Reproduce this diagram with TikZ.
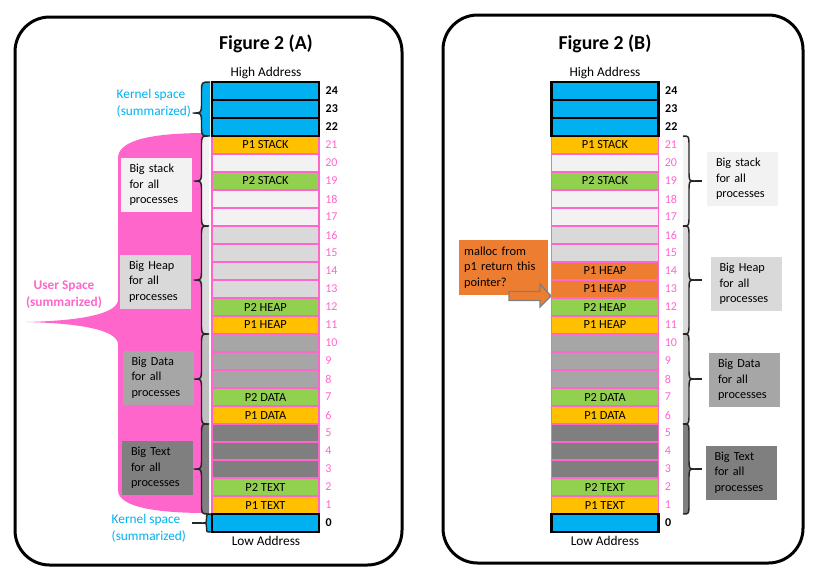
\documentclass[tikz,border=0pt]{standalone}
\usepackage{fontspec}
\setmainfont{Carlito}
\definecolor{kblue}{HTML}{00B0F0}
\definecolor{upink}{HTML}{FF66CC}
\definecolor{pyellow}{HTML}{FFC000}
\definecolor{pgreen}{HTML}{92D050}
\definecolor{porange}{HTML}{ED7D31}
\definecolor{gone}{HTML}{F2F2F2}
\definecolor{gtwo}{HTML}{D9D9D9}
\definecolor{gthree}{HTML}{A6A6A6}
\definecolor{gfour}{HTML}{7F7F7F}
\definecolor{bdata}{HTML}{BFBFBF}

% flat x, top y, bottom y, tip y, signed width, curve height
\newcommand{\bracepath}[6]{(#1,#2) .. controls ({#1-(#5)/2},#2) .. ({#1-(#5)/2},{#2+#6})
  -- ({#1-(#5)/2},{#4-#6}) .. controls ({#1-(#5)/2},#4) .. ({#1-(#5)},#4)
  .. controls ({#1-(#5)/2},#4) .. ({#1-(#5)/2},{#4+#6})
  -- ({#1-(#5)/2},{#3-#6}) .. controls ({#1-(#5)/2},#3) .. (#1,#3)}
\newcommand{\membrace}[7]{%
  \fill[#7] \bracepath{#1}{#2}{#3}{#4}{#5}{#6} -- cycle;
  \draw[braceline] \bracepath{#1}{#2}{#3}{#4}{#5}{#6};}

\tikzset{
  panel/.style={line width=2.25pt, rounded corners=26pt},
  cell/.style={draw=upink, line width=1.1pt, minimum width=80.25pt, minimum height=13.5pt,
    inner sep=0pt, font=\fontsize{9.3}{11}\selectfont},
  kcell/.style={cell, draw=black, line width=1.6pt, fill=kblue},
  num/.style={text=upink, inner sep=0pt, xshift=4pt, font=\fontsize{9}{11}\selectfont},
  knum/.style={num, text=black, font=\fontsize{9}{11}\selectfont\bfseries},
  infobox/.style={fill=#1, text width=39.75pt, inner xsep=6.75pt, minimum height=40.5pt,
    align=left, font=\fontsize{9.2}{11.6}\selectfont},
  braceline/.style={draw=black!85, line width=1.1pt, line join=round},
  ktext/.style={text=kblue, align=left, font=\fontsize{10}{12.75}\selectfont},
  title/.style={font=\fontsize{14.8}{18}\selectfont\bfseries},
  addr/.style={font=\fontsize{10}{12}\selectfont}
}

\begin{document}
\begin{tikzpicture}[x=0.75pt,y=-0.75pt]
  \useasboundingbox (0,0) rectangle (825,583);
  \begin{scope}
    \draw[panel] (15,17) rectangle (402,565);
    \fill[upink] (207,133) .. controls (160,133) and (118,138) .. (118,158) -- (118,300)
      .. controls (117,316) and (70,321) .. (26,322) .. controls (70,323) and (117,328) .. (118,344)
      -- (118,490) .. controls (118,508) and (160,513) .. (207,513) -- cycle;

    \membrace{210}{82}{136}{113}{17}{10}{kblue}
    \membrace{209}{136}{226}{181}{15}{10}{gone}
    \membrace{209}{226}{334}{280}{15}{10}{gtwo}
    \membrace{209}{334}{424}{379}{15}{10}{bdata}
    \membrace{209}{424}{514}{469}{15}{10}{gfour}
    \membrace{211}{514}{532}{523}{9}{4.5}{kblue}
    \draw[braceline] (202,523) -- (192,523);

    \node[infobox=gone] (stackA) at (156,185) {Big stack\\for all\\processes};
    \node[infobox=gtwo] (heapA) at (155.5,281.5) {Big Heap\\for all\\processes};
    \node[infobox=gthree] (dataA) at (158,377.5) {Big Data\\for all\\processes};
    \node[infobox=gfour] (textA) at (157.5,468) {Big Text\\for all\\processes};

    \node[title] (titleA) at (266,44) {Figure 2 (A)};
    \node[addr] (highA) at (266,73) {High Address};
    \node[addr] (lowA) at (266,541) {Low Address};
    \node[ktext, anchor=west] (kerntopA) at (112,103.5) {Kernel space\\(summarized)};
    \node[ktext, anchor=west] (kernbotA) at (107,528.5) {Kernel space\\(summarized)};
    \node[text=upink, align=center, font=\fontsize{10}{12.75}\selectfont\bfseries] (userA) at (64,294.5) {User Space\\(summarized)};

    \node[cell,fill=pyellow,label={[num]right:21}] (a21) at (265.5,145) {P1 STACK};
    \node[cell,fill=gone,label={[num]right:20}] (a20) at (265.5,163) {};
    \node[cell,fill=pgreen,label={[num]right:19}] (a19) at (265.5,181) {P2 STACK};
    \node[cell,fill=gone,label={[num]right:18}] (a18) at (265.5,199) {};
    \node[cell,fill=gone,label={[num]right:17}] (a17) at (265.5,217) {};
    \node[cell,fill=gtwo,label={[num]right:16}] (a16) at (265.5,235) {};
    \node[cell,fill=gtwo,label={[num]right:15}] (a15) at (265.5,253) {};
    \node[cell,fill=gtwo,label={[num]right:14}] (a14) at (265.5,271) {};
    \node[cell,fill=gtwo,label={[num]right:13}] (a13) at (265.5,289) {};
    \node[cell,fill=pgreen,label={[num]right:12}] (a12) at (265.5,307) {P2 HEAP};
    \node[cell,fill=pyellow,label={[num]right:11}] (a11) at (265.5,325) {P1 HEAP};
    \node[cell,fill=gthree,label={[num]right:10}] (a10) at (265.5,343) {};
    \node[cell,fill=gthree,label={[num]right:9}] (a9) at (265.5,361) {};
    \node[cell,fill=gthree,label={[num]right:8}] (a8) at (265.5,379) {};
    \node[cell,fill=pgreen,label={[num]right:7}] (a7) at (265.5,397) {P2 DATA};
    \node[cell,fill=pyellow,label={[num]right:6}] (a6) at (265.5,415) {P1 DATA};
    \node[cell,fill=gfour,label={[num]right:5}] (a5) at (265.5,433) {};
    \node[cell,fill=gfour,label={[num]right:4}] (a4) at (265.5,451) {};
    \node[cell,fill=gfour,label={[num]right:3}] (a3) at (265.5,469) {};
    \node[cell,fill=pgreen,label={[num]right:2}] (a2) at (265.5,487) {P2 TEXT};
    \node[cell,fill=pyellow,label={[num]right:1}] (a1) at (265.5,505) {P1 TEXT};
    \node[kcell,label={[knum]right:24}] (a24) at (265.5,91) {};
    \node[kcell,label={[knum]right:23}] (a23) at (265.5,109) {};
    \node[kcell,label={[knum]right:22}] (a22) at (265.5,127) {};
    \node[kcell,label={[knum]right:0}] (a0) at (265.5,523) {};
  \end{scope}
  \begin{scope}[shift={(339.5,0)}]
    \draw[panel] (103.5,15) rectangle (463.5,563);

    \membrace{343.5}{136}{226}{181}{-12}{10}{gone}
    \membrace{343.5}{226}{334}{280}{-12}{10}{gtwo}
    \membrace{343.5}{334}{424}{379}{-12}{10}{bdata}
    \membrace{343.5}{424}{514}{469}{-12}{10}{gfour}
    \draw[braceline] (355.5,181) -- (362.5,181);
    \draw[braceline] (355.5,280) -- (362.5,280);
    \draw[braceline] (355.5,379) -- (362.5,379);
    \draw[braceline] (355.5,469) -- (362.5,469);

    \node[infobox=gone] (stackB) at (403,179) {Big stack\\for all\\processes};
    \node[infobox=gtwo] (heapB) at (406.5,284) {Big Heap\\for all\\processes};
    \node[infobox=gthree] (dataB) at (405,380) {Big Data\\for all\\processes};
    \node[infobox=gfour] (textB) at (401.5,472.5) {Big Text\\for all\\processes};

    \node[title] (titleB) at (265.5,44) {Figure 2 (B)};
    \node[addr] (highB) at (265.5,73) {High Address};
    \node[addr] (lowB) at (265.5,541) {Low Address};

    \node[fill=porange, text width=59pt, inner xsep=3.9pt, minimum height=41.25pt, align=left,
      font=\fontsize{9.3}{11.6}\selectfont] (malloc) at (164,267.5) {malloc from\\p1 return this\\pointer?};
    \filldraw[fill=porange, draw=gfour, line width=1pt] (169.5,291.5) -- (200.5,291.5) -- (200.5,284)
      -- (211.5,296) -- (200.5,307) -- (200.5,300.5) -- (169.5,300.5) -- cycle;

    \node[cell,fill=pyellow,label={[num]right:21}] (b21) at (265.5,145) {P1 STACK};
    \node[cell,fill=gone,label={[num]right:20}] (b20) at (265.5,163) {};
    \node[cell,fill=pgreen,label={[num]right:19}] (b19) at (265.5,181) {P2 STACK};
    \node[cell,fill=gone,label={[num]right:18}] (b18) at (265.5,199) {};
    \node[cell,fill=gone,label={[num]right:17}] (b17) at (265.5,217) {};
    \node[cell,fill=gtwo,label={[num]right:16}] (b16) at (265.5,235) {};
    \node[cell,fill=gtwo,label={[num]right:15}] (b15) at (265.5,253) {};
    \node[cell,fill=porange,label={[num]right:14}] (b14) at (265.5,271) {P1 HEAP};
    \node[cell,fill=porange,label={[num]right:13}] (b13) at (265.5,289) {P1 HEAP};
    \node[cell,fill=pgreen,label={[num]right:12}] (b12) at (265.5,307) {P2 HEAP};
    \node[cell,fill=pyellow,label={[num]right:11}] (b11) at (265.5,325) {P1 HEAP};
    \node[cell,fill=gthree,label={[num]right:10}] (b10) at (265.5,343) {};
    \node[cell,fill=gthree,label={[num]right:9}] (b9) at (265.5,361) {};
    \node[cell,fill=gthree,label={[num]right:8}] (b8) at (265.5,379) {};
    \node[cell,fill=pgreen,label={[num]right:7}] (b7) at (265.5,397) {P2 DATA};
    \node[cell,fill=pyellow,label={[num]right:6}] (b6) at (265.5,415) {P1 DATA};
    \node[cell,fill=gfour,label={[num]right:5}] (b5) at (265.5,433) {};
    \node[cell,fill=gfour,label={[num]right:4}] (b4) at (265.5,451) {};
    \node[cell,fill=gfour,label={[num]right:3}] (b3) at (265.5,469) {};
    \node[cell,fill=pgreen,label={[num]right:2}] (b2) at (265.5,487) {P2 TEXT};
    \node[cell,fill=pyellow,label={[num]right:1}] (b1) at (265.5,505) {P1 TEXT};
    \node[kcell,label={[knum]right:24}] (b24) at (265.5,91) {};
    \node[kcell,label={[knum]right:23}] (b23) at (265.5,109) {};
    \node[kcell,label={[knum]right:22}] (b22) at (265.5,127) {};
    \node[kcell,label={[knum]right:0}] (b0) at (265.5,523) {};
  \end{scope}
\end{tikzpicture}
\end{document}
